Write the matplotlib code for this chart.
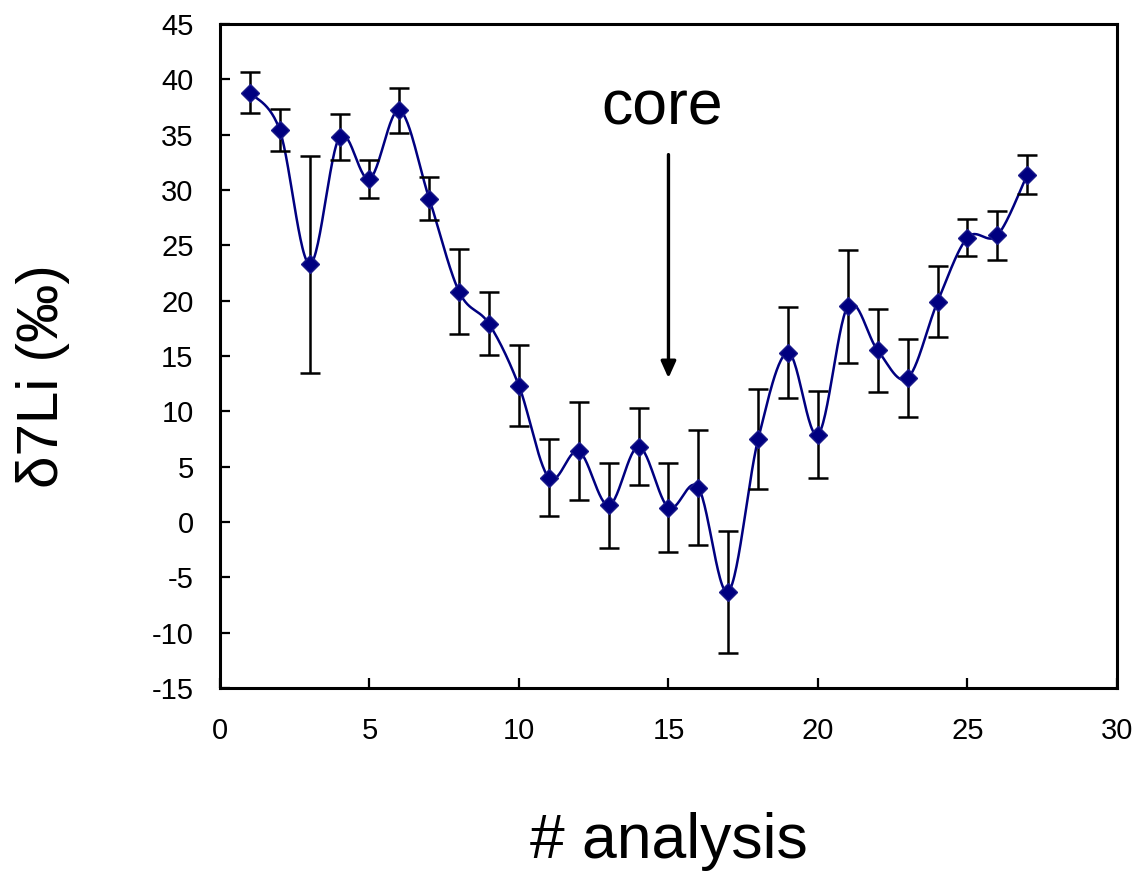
import numpy as np
import matplotlib
matplotlib.use("Agg")
import matplotlib.pyplot as plt

plt.rcParams['font.family'] = ['Liberation Sans', 'DejaVu Sans']
plt.rcParams['axes.unicode_minus'] = False

analysis = [1, 2, 3, 4, 5, 6, 7, 8, 9, 10, 11, 12, 13, 14, 15, 16, 17, 18, 19, 20,
            21, 22, 23, 24, 25, 26, 27]
d7li = [38.8, 35.4, 23.3, 34.8, 31.0, 37.2, 29.2, 20.8, 17.9, 12.3, 4.0, 6.4, 1.5, 6.8,
        1.3, 3.1, -6.3, 7.5, 15.3, 7.9, 19.5, 15.5, 13.0, 19.9, 25.7, 25.9, 31.4]
err = [1.85, 1.9, 9.8, 2.1, 1.75, 2.05, 1.95, 3.85, 2.85, 3.65, 3.5, 4.45, 3.85, 3.5,
       4.0, 5.2, 5.5, 4.5, 4.1, 3.9, 5.1, 3.75, 3.55, 3.2, 1.65, 2.2, 1.8]

x_ticks = [0, 5, 10, 15, 20, 25, 30]
y_ticks = [-15, -10, -5, 0, 5, 10, 15, 20, 25, 30, 35, 40, 45]


def smooth(xs, ys, n=30):
    xs = np.asarray(xs, float)
    ys = np.asarray(ys, float)
    P = np.column_stack([xs, ys])
    Pext = np.vstack([P[0], P, P[-1]])
    out = []
    t = np.linspace(0, 1, n)[:, None]
    for i in range(len(P) - 1):
        p0, p1, p2, p3 = Pext[i], Pext[i + 1], Pext[i + 2], Pext[i + 3]
        c1 = p1 + (p2 - p0) / 6.0
        c2 = p2 - (p3 - p1) / 6.0
        seg = ((1 - t) ** 3) * p1 + 3 * ((1 - t) ** 2) * t * c1 + 3 * (1 - t) * t ** 2 * c2 + t ** 3 * p2
        out.append(seg if i == 0 else seg[1:])
    s = np.vstack(out)
    return s[:, 0], s[:, 1]


fig = plt.figure(figsize=(11.38, 8.76), dpi=100)
ax = fig.add_axes([0.1933, 0.2146, 0.7882, 0.758])

sx, sy = smooth(analysis, d7li)
ax.plot(sx, sy, color='#000080', lw=1.8, zorder=2)
ax.errorbar(analysis, d7li, yerr=err, fmt='none', ecolor='black', elinewidth=1.8,
            capsize=7, capthick=1.8, zorder=3)
ax.plot(analysis, d7li, linestyle='none', marker='D', markersize=9,
        color='#000080', markeredgecolor='#1a1a8a', zorder=4)

ax.set_xlim(0, 30)
ax.set_ylim(-15, 45)
ax.set_xticks(x_ticks)
ax.set_yticks(y_ticks)
ax.tick_params(direction='in', length=7, width=1.6, labelsize=21)
ax.tick_params(axis='y', pad=19)
ax.tick_params(axis='x', pad=21)
for sp in ax.spines.values():
    sp.set_linewidth(2.2)

ax.set_xlabel('# analysis', fontsize=45)
ax.xaxis.set_label_coords(0.5, -0.256)
ax.xaxis.label.set_va('baseline')
ax.set_ylabel('δ7Li (‰)', fontsize=42)
ax.yaxis.set_label_coords(-0.197, 0.47)
ax.yaxis.label.set_va('center')

ax.annotate('', xy=(15, 13.0), xytext=(15, 33.2),
            arrowprops=dict(arrowstyle='-|>,head_length=1.0,head_width=0.45',
                            color='black', lw=2.4, shrinkA=0, shrinkB=0))
ax.text(14.8, 35.9, 'core', fontsize=45, ha='center', va='baseline')

fig.savefig('out.png', dpi=100)
